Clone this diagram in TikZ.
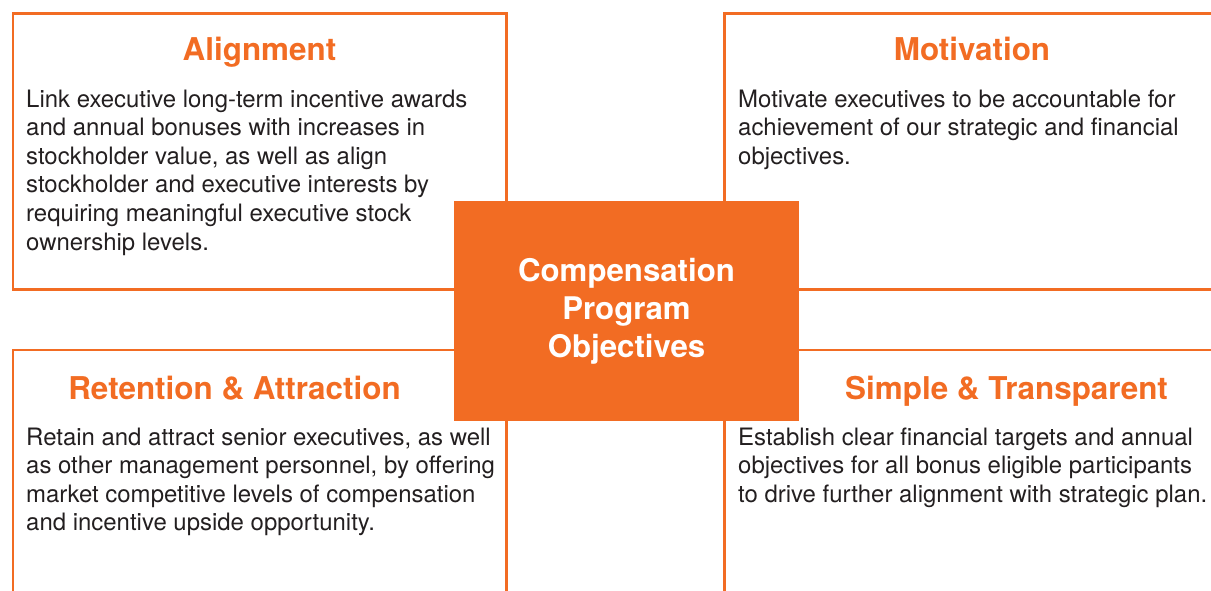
\documentclass[tikz,border=0pt]{standalone}
\usepackage{fontspec}
\setmainfont{TeX Gyre Heros}
\usetikzlibrary{positioning}
\definecolor{comporange}{RGB}{242,108,35}
\definecolor{textgray}{RGB}{35,31,32}

\begin{document}
\begin{tikzpicture}[x=1pt,y=-1pt,
  frame/.style={draw=comporange,line width=2.6pt},
  heading/.style={text=comporange,font=\fontsize{31.4}{36}\selectfont\bfseries,inner sep=0pt,anchor=base},
  body/.style={text=textgray,font=\fontsize{23.95}{28.6}\selectfont,align=left,inner sep=0pt,anchor=base west}]
  \useasboundingbox (0,0) rectangle (1211,591);
  \clip (0,0) rectangle (1211,591);
  \draw[frame] (13,13.5) rectangle (506.5,289.5); %Alignment
  \draw[frame] (724.3,13.5) rectangle (1240,289.5); %Motivation
  \draw[frame] (13,350) rectangle (506.5,640); %Retention
  \draw[frame] (724.3,350) rectangle (1240,640); %Simple
  \node[fill=comporange,minimum width=345pt,minimum height=220pt,inner sep=0pt] (objectives) at (626.5,311) {}; %中央
  \node[text=white,font=\fontsize{31.2}{38}\selectfont\bfseries,align=center,inner sep=0pt] (objtext) at (objectives) {Compensation\\Program\\Objectives};
  \node[heading] (alignment) at (259.5,61) {Alignment};
  \node[heading] (motivation) at (972,61) {Motivation};
  \node[heading] (retention) at (234.5,399) {Retention \& Attraction};
  \node[heading] (simple) at (1006.5,399) {Simple \& Transparent};
  % base = letzte Zeile
  \node[body] (aligntext) at (26,250) {Link executive long-term incentive awards\\and annual bonuses with increases in\\stockholder value, as well as align\\stockholder and executive interests by\\requiring meaningful executive stock\\ownership levels.};
  \node[body] (motivtext) at (738,164.2) {Motivate executives to be accountable for\\achievement of our strategic and financial\\objectives.};
  \node[body] (retaintext) at (26,530.8) {Retain and attract senior executives, as well\\as other management personnel, by offering\\market competitive levels of compensation\\and incentive upside opportunity.};
  \node[body] (simpletext) at (738,502.2) {Establish clear financial targets and annual\\objectives for all bonus eligible participants\\to drive further alignment with strategic plan.};
\end{tikzpicture}
\end{document}
